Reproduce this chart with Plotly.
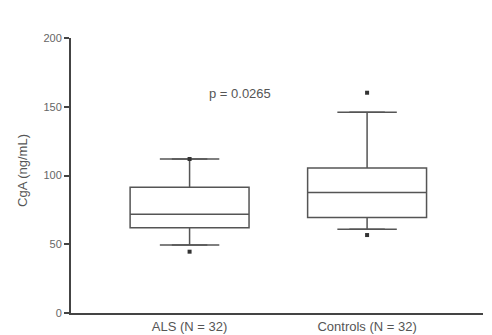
import plotly.graph_objects as go

categories = ["ALS (N = 32)", "Controls (N = 32)"]
xpos = [0, 1]
q1 = [62, 69.5]
median = [71.8, 87.6]
q3 = [91.4, 105.5]
lower_whisker = [49.5, 61]
upper_whisker = [112, 146]
outliers_x = [0, 0, 1, 1]
outliers_y = [44.6, 112, 56.7, 160.2]
p_text = "p = 0.0265"
y_title = "CgA (ng/mL)"

line_col = "#555555"
fig = go.Figure()
fig.add_trace(go.Box(
    x=xpos, q1=q1, median=median, q3=q3,
    lowerfence=lower_whisker, upperfence=upper_whisker,
    width=0.67, fillcolor="rgba(0,0,0,0)",
    line=dict(color=line_col, width=1.5), boxpoints=False,
    showlegend=False, hoverinfo="skip"))
cap_half = 0.1
for i, c in enumerate(xpos):
    for v in (lower_whisker[i], upper_whisker[i]):
        fig.add_trace(go.Scatter(x=[c - cap_half, c + cap_half], y=[v, v], mode="lines",
                                 line=dict(color=line_col, width=1.5), showlegend=False,
                                 hoverinfo="skip"))
fig.add_trace(go.Scatter(x=outliers_x, y=outliers_y, mode="markers",
                         marker=dict(color="#333333", size=4, symbol="square"),
                         showlegend=False))
fig.add_annotation(x=0.285, y=160, text=p_text, showarrow=False,
                   font=dict(size=13, color="#555555", family="Arial"))
fig.add_annotation(xref="paper", yref="paper", x=-0.119, y=0.52, text=y_title,
                   textangle=-90, showarrow=False, xanchor="center", yanchor="middle",
                   font=dict(size=13, color="#555555", family="Arial"))

fig.update_layout(
    width=484, height=327, plot_bgcolor="white", paper_bgcolor="white",
    margin=dict(l=63, r=9, t=30, b=22),
    font=dict(family="Arial", color="#555555", size=10),
    xaxis=dict(range=[-0.668, 1.653], tickvals=xpos, ticktext=categories,
               showline=True, linecolor="#444444", linewidth=2, showgrid=False,
               zeroline=False, ticks="", automargin=False,
               tickfont=dict(size=13, color="#555555")),
    yaxis=dict(range=[0, 200], tickvals=[0, 50, 100, 150, 200],
               showline=True, linecolor="#444444", linewidth=2, showgrid=False,
               zeroline=False, ticks="outside", ticklen=5, tickwidth=2,
               tickcolor="#444444", automargin=False,
               tickfont=dict(size=11, color="#666666")),
)
fig.write_html("out.html")
